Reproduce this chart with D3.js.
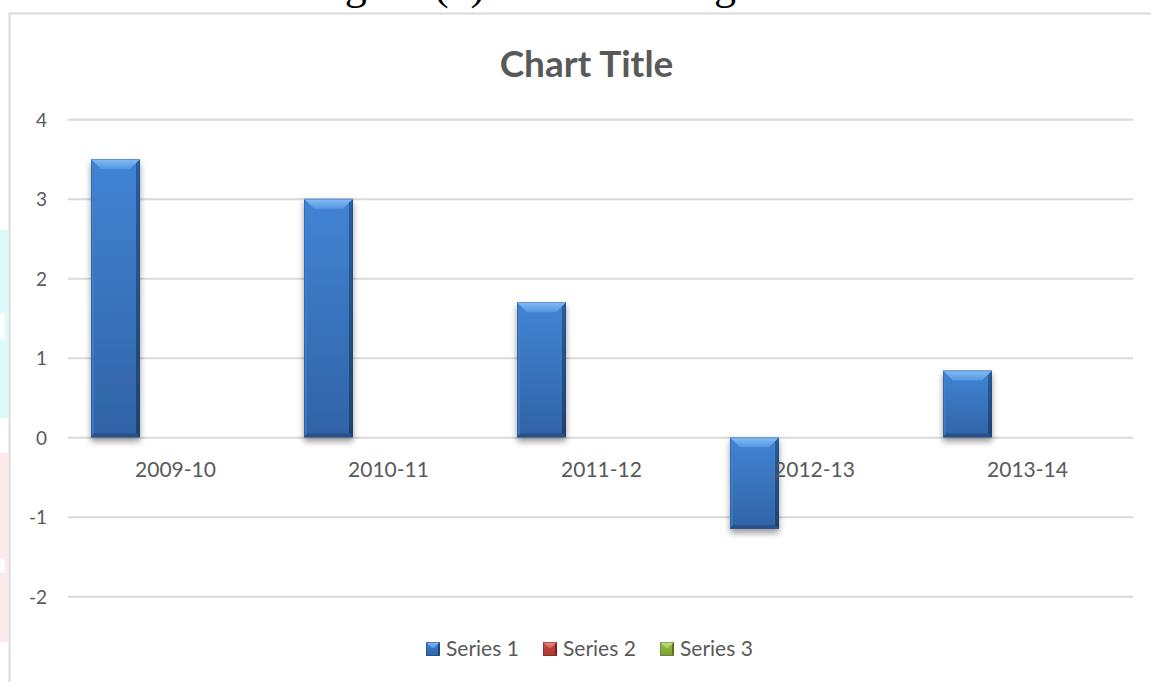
<!DOCTYPE html>
<html>
<head>
<meta charset="utf-8">
<script src="https://cdn.jsdelivr.net/npm/d3@7"></script>
<style>
  html, body { margin: 0; padding: 0; background: #ffffff; }
  svg { display: block; }
</style>
</head>
<body>
<svg id="chart" width="1151" height="682"></svg>
<script>
// ---- data ----
const categories = ["2009-10", "2010-11", "2011-12", "2012-13", "2013-14"];
const seriesNames = ["Series 1", "Series 2", "Series 3"];
const series1 = [3.5, 3.0, 1.7, -1.15, 0.84];
const series2 = [null, null, null, null, null];
const series3 = [null, null, null, null, null];
const yTicks = [-2, -1, 0, 1, 2, 3, 4];
const chartTitle = "Chart Title";

const seriesValues = [series1, series2, series3];

// ---- palette per series: body top/bottom, light bevel, dark side ----
const palette = [
  { top: "#4184d4", bottom: "#3163a6", light1: "#86bdf5", light2: "#5496e2", side: "#2a5d9e", side2: "#1f426f", base: "#28528a" },
  { top: "#cc4a46", bottom: "#a83532", light1: "#ee8a86", light2: "#d55b57", side: "#9a2c29", side2: "#7a201e", base: "#8a2825" },
  { top: "#97bd4a", bottom: "#7c9f34", light1: "#c5e285", light2: "#a6c95c", side: "#6f9030", side2: "#566f22", base: "#627f28" }
];

const W = 1151, H = 682;
const svg = d3.select("#chart");
const defs = svg.append("defs");

palette.forEach((p, i) => {
  const g1 = defs.append("linearGradient").attr("id", "body" + i).attr("x1", 0).attr("y1", 0).attr("x2", 0).attr("y2", 1);
  g1.append("stop").attr("offset", "0%").attr("stop-color", p.top);
  g1.append("stop").attr("offset", "100%").attr("stop-color", p.bottom);
  const g2 = defs.append("linearGradient").attr("id", "bevel" + i).attr("x1", 0).attr("y1", 0).attr("x2", 0).attr("y2", 1);
  g2.append("stop").attr("offset", "0%").attr("stop-color", p.light1);
  g2.append("stop").attr("offset", "100%").attr("stop-color", p.light2);
  const g3 = defs.append("linearGradient").attr("id", "side" + i).attr("x1", 0).attr("y1", 0).attr("x2", 0).attr("y2", 1);
  g3.append("stop").attr("offset", "0%").attr("stop-color", p.side);
  g3.append("stop").attr("offset", "100%").attr("stop-color", p.side2);
});

const shadow = defs.append("filter").attr("id", "shadow")
  .attr("x", "-30%").attr("y", "-10%").attr("width", "160%").attr("height", "130%");
shadow.append("feDropShadow").attr("dx", 0).attr("dy", 4).attr("stdDeviation", 3)
  .attr("flood-color", "#000").attr("flood-opacity", 0.4);

// ---- page decorations at the left margin ----
svg.append("rect").attr("x", 0).attr("y", 230).attr("width", 8).attr("height", 188).attr("fill", "#dcfafa");
svg.append("rect").attr("x", 0).attr("y", 313).attr("width", 5).attr("height", 27).attr("rx", 3).attr("fill", "#ffffff");
svg.append("rect").attr("x", 0).attr("y", 453).attr("width", 8).attr("height", 189).attr("fill", "#fde9e9");
svg.append("rect").attr("x", 0).attr("y", 558).attr("width", 5).attr("height", 15).attr("rx", 3).attr("fill", "#ffffff");

// caption line above the chart frame (only its lowest strokes fall inside the page)
const captionFont = "'Liberation Serif', 'DejaVu Serif', serif";
svg.append("text").attr("x", 308).attr("y", -1)
  .attr("font-family", captionFont).attr("font-size", 44).attr("fill", "#000")
  .text("Figure (1)");
svg.append("text").attr("x", 736).attr("y", -1).attr("text-anchor", "end")
  .attr("font-family", captionFont).attr("font-size", 44).attr("fill", "#000")
  .text("Banking");

// chart frame
svg.append("rect").attr("x", 9.5).attr("y", 13.5).attr("width", W + 20).attr("height", H + 20)
  .attr("fill", "#ffffff").attr("stroke", "#d9d9d9").attr("stroke-width", 2);

// ---- scales ----
const plotLeft = 68, plotRight = 1133;
const x0 = d3.scaleBand().domain(categories).range([plotLeft, plotRight]).padding(0);
const bw = x0.bandwidth();
const x1 = d3.scaleBand().domain(seriesNames)
  .range([bw * 0.108, bw * 0.108 + 3 * bw * 0.23]).padding(0);
const y = d3.scaleLinear().domain([-2, 4]).range([596.3, 119.3]);

const font = "Lato, 'Open Sans', sans-serif";
const textColor = "#595959";

// title
svg.append("text").attr("x", (plotLeft + plotRight) / 2 - 14).attr("y", 77)
  .attr("text-anchor", "middle").attr("font-family", font).attr("font-weight", 700)
  .attr("font-size", 37).attr("fill", textColor).text(chartTitle);

// gridlines + y tick labels via axis
const yAxis = d3.axisLeft(y).tickValues(yTicks).tickSize(-(plotRight - plotLeft)).tickPadding(21)
  .tickFormat(d => String(d));
const gy = svg.append("g").attr("transform", `translate(${plotLeft},0)`).call(yAxis);
gy.select(".domain").remove();
gy.selectAll(".tick line").attr("stroke", "#d9d9d9").attr("stroke-width", 2);
gy.selectAll(".tick text").attr("font-family", font).attr("font-size", 19).attr("fill", textColor)
  .attr("dy", "0.36em");

// ---- bars ----
function bevelBar(g, x, w, v, si) {
  const yTop = Math.min(y(0), y(v));
  const yBot = Math.max(y(0), y(v));
  const h = yBot - yTop;
  const b = Math.min(10, h / 2), sL = 3, sR = 4, bb = Math.min(4, h / 3);
  const bar = g.append("g").attr("filter", "url(#shadow)");
  bar.append("rect").attr("x", x).attr("y", yTop).attr("width", w).attr("height", h).attr("fill", `url(#body${si})`);
  // left edge
  bar.append("polygon").attr("points", [[x, yTop], [x + sL, yTop + sL], [x + sL, yBot - sL], [x, yBot]].join(" "))
    .attr("fill", palette[si].top).attr("opacity", 0.55);
  // right edge (shaded)
  bar.append("polygon").attr("points", [[x + w, yTop], [x + w - sR, yTop + sR], [x + w - sR, yBot - sR], [x + w, yBot]].join(" "))
    .attr("fill", `url(#side${si})`);
  // bottom edge (shaded)
  bar.append("polygon").attr("points", [[x, yBot], [x + w, yBot], [x + w - sR, yBot - bb], [x + sL, yBot - bb]].join(" "))
    .attr("fill", palette[si].base);
  // top bevel (lit)
  bar.append("polygon").attr("points", [[x, yTop], [x + w, yTop], [x + w - b, yTop + b], [x + b, yTop + b]].join(" "))
    .attr("fill", `url(#bevel${si})`);
  bar.append("line").attr("x1", x).attr("x2", x + w).attr("y1", yTop + 0.5).attr("y2", yTop + 0.5)
    .attr("stroke", palette[si].light1).attr("stroke-width", 1);
  bar.append("rect").attr("x", x + 0.5).attr("y", yTop + 0.5).attr("width", w - 1).attr("height", h - 1)
    .attr("fill", "none").attr("stroke", palette[si].side2).attr("stroke-opacity", 0.35).attr("stroke-width", 1);
}

const barsG = svg.append("g");
categories.forEach((c, ci) => {
  seriesNames.forEach((s, si) => {
    const v = seriesValues[si][ci];
    if (v === null || v === undefined) return;
    bevelBar(barsG, x0(c) + x1(s), x1.bandwidth(), v, si);
  });
});

// category labels
svg.append("g").selectAll("text").data(categories).join("text")
  .attr("x", d => x0(d) + bw / 2 + 1).attr("y", 477)
  .attr("text-anchor", "middle").attr("font-family", font).attr("font-size", 21).attr("fill", textColor)
  .text(d => d);

// ---- legend ----
const legend = svg.append("g");
const legendX = 426, legendY = 642, legendStep = 117, m = 14;
seriesNames.forEach((s, i) => {
  const lx = legendX + i * legendStep;
  const p = palette[i];
  legend.append("rect").attr("x", lx).attr("y", legendY).attr("width", m).attr("height", m).attr("fill", `url(#body${i})`);
  legend.append("polygon").attr("points", [[lx + m, legendY], [lx + m - 2, legendY + 2], [lx + m - 2, legendY + m - 2], [lx + m, legendY + m]].join(" "))
    .attr("fill", p.side2);
  legend.append("polygon").attr("points", [[lx, legendY], [lx + m, legendY], [lx + m / 2 + 1, legendY + 6], [lx + m / 2 - 1, legendY + 6]].join(" "))
    .attr("fill", `url(#bevel${i})`);
  legend.append("rect").attr("x", lx + 0.5).attr("y", legendY + 0.5).attr("width", m - 1).attr("height", m - 1)
    .attr("fill", "none").attr("stroke", p.side2).attr("stroke-opacity", 0.5);
  legend.append("text").attr("x", lx + 20).attr("y", legendY + 14)
    .attr("font-family", font).attr("font-size", 21).attr("fill", textColor).text(s);
});
</script>
</body>
</html>
